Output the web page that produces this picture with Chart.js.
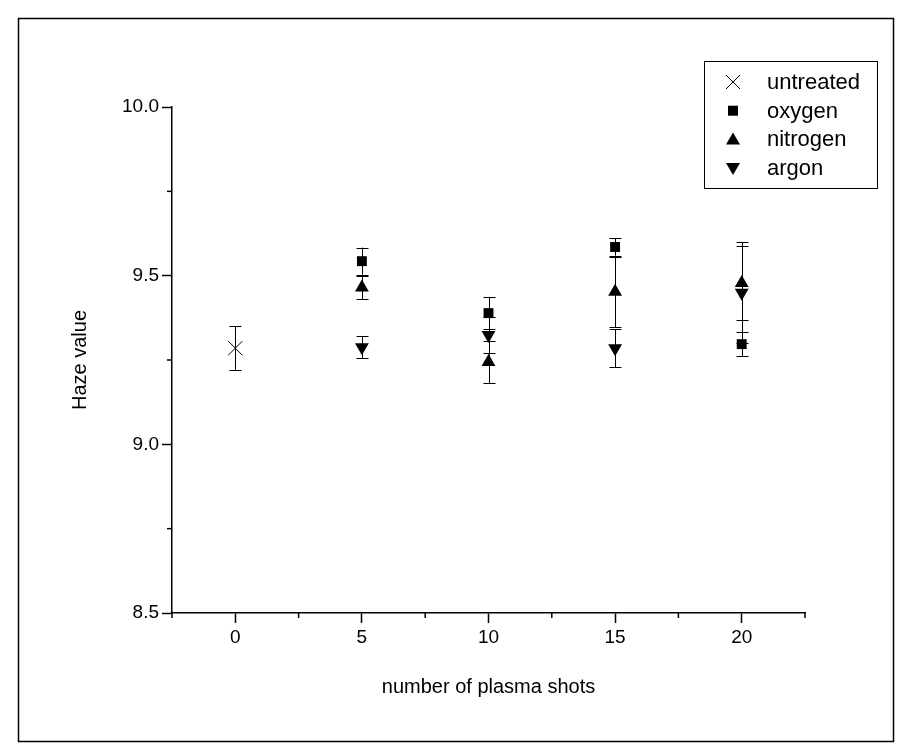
<!DOCTYPE html>
<html>
<head>
<meta charset="utf-8">
<script src="https://cdn.jsdelivr.net/npm/chart.js@4.4.1/dist/chart.umd.min.js"></script>
<style>
  html, body { margin: 0; padding: 0; background: #fff; }
  #wrap { width: 912px; height: 756px; }
</style>
</head>
<body>
<div id="wrap"><canvas id="hazeChart" width="912" height="756"></canvas></div>
<script>
// values
const untreatedShots = [0];
const untreated = [9.285];
const untreatedErr = [0.065];

const shots = [5, 10, 15, 20];
const oxygen = [9.543, 9.389, 9.585, 9.297];
const oxygenErr = [0.040, 0.048, 0.026, 0.035];
const nitrogen = [9.465, 9.244, 9.452, 9.478];
const nitrogenErr = [0.035, 0.062, 0.104, 0.110];
const argon = [9.288, 9.324, 9.285, 9.449];
const argonErr = [0.033, 0.054, 0.056, 0.150];

const xTicksMajor = [0, 5, 10, 15, 20];
const yTicksMajor = [8.5, 9.0, 9.5, 10.0];

const FONT = 'Liberation Sans, Arial, Helvetica, sans-serif';

function pts(xs, ys) {
    return xs.map(function (x, i) { return { x: x, y: ys[i] }; });
}

function isMajor(v, list) {
    return list.some(function (m) { return Math.abs(m - v) < 1e-6; });
}

// error bars, drawn under the markers
const errorBars = {
    id: 'errorBars',
    beforeDatasetsDraw(chart) {
        const ctx = chart.ctx;
        const xs = chart.scales.x, ys = chart.scales.y;
        ctx.save();
        ctx.strokeStyle = '#000';
        ctx.lineWidth = 1;
        chart.data.datasets.forEach(function (ds) {
            ds.data.forEach(function (p, i) {
                const e = ds.errors[i];
                const px = Math.round(xs.getPixelForValue(p.x)) + 0.5;
                const top = ys.getPixelForValue(p.y + e);
                const bot = ys.getPixelForValue(p.y - e);
                ctx.beginPath();
                ctx.moveTo(px, top);
                ctx.lineTo(px, bot);
                ctx.moveTo(px - 6, Math.round(top) + 0.5);
                ctx.lineTo(px + 6, Math.round(top) + 0.5);
                ctx.moveTo(px - 6, Math.round(bot) + 0.5);
                ctx.lineTo(px + 6, Math.round(bot) + 0.5);
                ctx.stroke();
            });
        });
        ctx.restore();
    }
};

function drawSymbol(ctx, style, x, y) {
    ctx.beginPath();
    if (style === 'rect') {
        ctx.rect(x - 5, y - 5, 10, 10);
        ctx.fill();
    } else if (style === 'triangle') {
        ctx.moveTo(x, y - 7);
        ctx.lineTo(x + 7, y + 5);
        ctx.lineTo(x - 7, y + 5);
        ctx.closePath();
        ctx.fill();
    } else if (style === 'down') {
        ctx.moveTo(x, y + 7);
        ctx.lineTo(x + 7, y - 5);
        ctx.lineTo(x - 7, y - 5);
        ctx.closePath();
        ctx.fill();
    } else {
        ctx.moveTo(x - 7, y - 7);
        ctx.lineTo(x + 7, y + 7);
        ctx.moveTo(x + 7, y - 7);
        ctx.lineTo(x - 7, y + 7);
        ctx.stroke();
    }
}

// minor ticks, axis titles, legend box and frame
const decorations = {
    id: 'decorations',
    afterDraw(chart) {
        const ctx = chart.ctx;
        const a = chart.chartArea;
        const xs = chart.scales.x, ys = chart.scales.y;
        ctx.save();
        ctx.strokeStyle = '#000';
        ctx.fillStyle = '#000';
        ctx.lineWidth = 1.5;

        ys.ticks.forEach(function (t) {
            if (isMajor(t.value, yTicksMajor)) return;
            const py = ys.getPixelForValue(t.value);
            ctx.beginPath();
            ctx.moveTo(a.left, py);
            ctx.lineTo(a.left - 5, py);
            ctx.stroke();
        });
        xs.ticks.forEach(function (t) {
            if (isMajor(t.value, xTicksMajor)) return;
            const px = xs.getPixelForValue(t.value);
            ctx.beginPath();
            ctx.moveTo(px, a.bottom);
            ctx.lineTo(px, a.bottom + 5);
            ctx.stroke();
        });

        ctx.font = '20px ' + FONT;
        ctx.textAlign = 'center';
        ctx.textBaseline = 'middle';
        ctx.fillText('number of plasma shots', (a.left + a.right) / 2, 687);
        ctx.save();
        ctx.translate(80, (a.top + a.bottom) / 2);
        ctx.rotate(-Math.PI / 2);
        ctx.fillText('Haze value', 0, 0);
        ctx.restore();

        // legend
        ctx.lineWidth = 1;
        ctx.strokeRect(704.5, 61.5, 173, 127);
        ctx.font = '22px ' + FONT;
        ctx.textAlign = 'left';
        chart.data.datasets.forEach(function (ds, i) {
            const y = 82 + i * 28.7;
            drawSymbol(ctx, ds.legendSymbol, 733, y);
            ctx.fillText(ds.label, 767, y + 1);
        });

        // outer frame
        ctx.lineWidth = 1.5;
        ctx.strokeRect(18.5, 18.5, 875, 723);
        ctx.restore();
    }
};

Chart.defaults.font.family = FONT;
Chart.defaults.font.size = 19;
Chart.defaults.color = '#000';

const ctx = document.getElementById('hazeChart').getContext('2d');
new Chart(ctx, {
    type: 'scatter',
    data: {
        datasets: [{
            label: 'untreated',
            data: pts(untreatedShots, untreated),
            errors: untreatedErr,
            legendSymbol: 'cross',
            pointStyle: 'crossRot',
            pointRadius: 10,
            borderColor: '#000',
            backgroundColor: '#000',
            pointBorderWidth: 1
        }, {
            label: 'oxygen',
            data: pts(shots, oxygen),
            errors: oxygenErr,
            legendSymbol: 'rect',
            pointStyle: 'rect',
            pointRadius: 7,
            borderColor: '#000',
            backgroundColor: '#000',
            pointBorderWidth: 0
        }, {
            label: 'nitrogen',
            data: pts(shots, nitrogen),
            errors: nitrogenErr,
            legendSymbol: 'triangle',
            pointStyle: 'triangle',
            pointRadius: 8,
            borderColor: '#000',
            backgroundColor: '#000',
            pointBorderWidth: 0
        }, {
            label: 'argon',
            data: pts(shots, argon),
            errors: argonErr,
            legendSymbol: 'down',
            pointStyle: 'triangle',
            rotation: 180,
            pointRadius: 8,
            borderColor: '#000',
            backgroundColor: '#000',
            pointBorderWidth: 0
        }]
    },
    options: {
        responsive: false,
        animation: false,
        devicePixelRatio: 1,
        layout: { padding: { top: 107, right: 107, left: 0, bottom: 0 } },
        plugins: {
            legend: { display: false },
            tooltip: { enabled: false }
        },
        scales: {
            x: {
                type: 'linear',
                min: -2.5,
                max: 22.5,
                afterFit: function (s) { s.height = 143; },
                border: { display: true, color: '#000', width: 1.5 },
                grid: {
                    drawOnChartArea: false,
                    tickLength: 10,
                    tickWidth: 1.5,
                    tickColor: function (c) {
                        return c.tick && isMajor(c.tick.value, xTicksMajor) ? '#000' : 'rgba(0,0,0,0)';
                    }
                },
                ticks: {
                    stepSize: 2.5,
                    autoSkip: false,
                    maxRotation: 0,
                    padding: 3,
                    callback: function (v) { return isMajor(v, xTicksMajor) ? String(v) : ''; }
                }
            },
            y: {
                min: 8.5,
                max: 10,
                afterFit: function (s) { s.width = 172; },
                border: { display: true, color: '#000', width: 1.5 },
                grid: {
                    drawOnChartArea: false,
                    tickLength: 10,
                    tickWidth: 1.5,
                    tickColor: function (c) {
                        return c.tick && isMajor(c.tick.value, yTicksMajor) ? '#000' : 'rgba(0,0,0,0)';
                    }
                },
                ticks: {
                    stepSize: 0.25,
                    autoSkip: false,
                    padding: 3,
                    callback: function (v) { return isMajor(v, yTicksMajor) ? v.toFixed(1) : ''; }
                }
            }
        }
    },
    plugins: [errorBars, decorations]
});
</script>
</body>
</html>
